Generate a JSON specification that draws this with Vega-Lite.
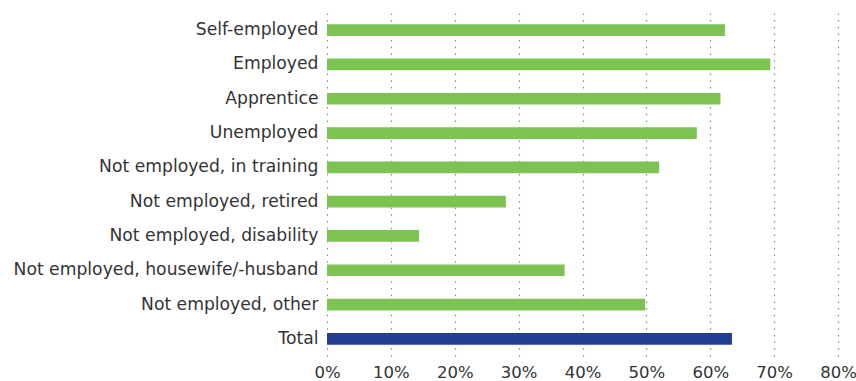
{
  "$schema": "https://vega.github.io/schema/vega-lite/v6.json",
  "autosize": {"type": "none"},
  "padding": {"left": 327, "top": 13, "right": 18, "bottom": 25},
  "width": 511,
  "height": 343,
  "background": "white",
  "data": {"values": [
    {"category": "Self-employed", "value": 62.3, "group": "g"},
    {"category": "Employed", "value": 69.4, "group": "g"},
    {"category": "Apprentice", "value": 61.6, "group": "g"},
    {"category": "Unemployed", "value": 57.9, "group": "g"},
    {"category": "Not employed, in training", "value": 52.0, "group": "g"},
    {"category": "Not employed, retired", "value": 28.0, "group": "g"},
    {"category": "Not employed, disability", "value": 14.4, "group": "g"},
    {"category": "Not employed, housewife/-husband", "value": 37.2, "group": "g"},
    {"category": "Not employed, other", "value": 49.8, "group": "g"},
    {"category": "Total", "value": 63.4, "group": "t"}
  ]},
  "mark": {"type": "bar"},
  "encoding": {
    "y": {
      "field": "category", "type": "nominal", "sort": null,
      "scale": {"paddingInner": 0.66, "paddingOuter": 0.33},
      "axis": {"title": null, "domain": false, "ticks": false, "grid": false, "labelLimit": 0,
        "labelFont": "DejaVu Sans", "labelFontSize": 17.2, "labelColor": "#333333", "labelPadding": 9}
    },
    "x": {
      "field": "value", "type": "quantitative",
      "scale": {"domain": [0, 80], "nice": false},
      "axis": {"title": null, "values": [0,10,20,30,40,50,60,70,80], "labelExpr": "datum.value + '%'", "labelFlush": false,
        "domain": false, "ticks": false, "grid": true, "gridColor": "#888888", "gridDash": [1.5, 5.2], "gridWidth": 1.2,
        "labelFont": "DejaVu Sans", "labelFontSize": 16.5, "labelColor": "#333333", "labelPadding": 8}
    },
    "color": {"field": "group", "type": "nominal", "scale": {"domain": ["g", "t"], "range": ["#7dc352", "#233f93"]}, "legend": null}
  },
  "config": {"view": {"stroke": null}}
}
